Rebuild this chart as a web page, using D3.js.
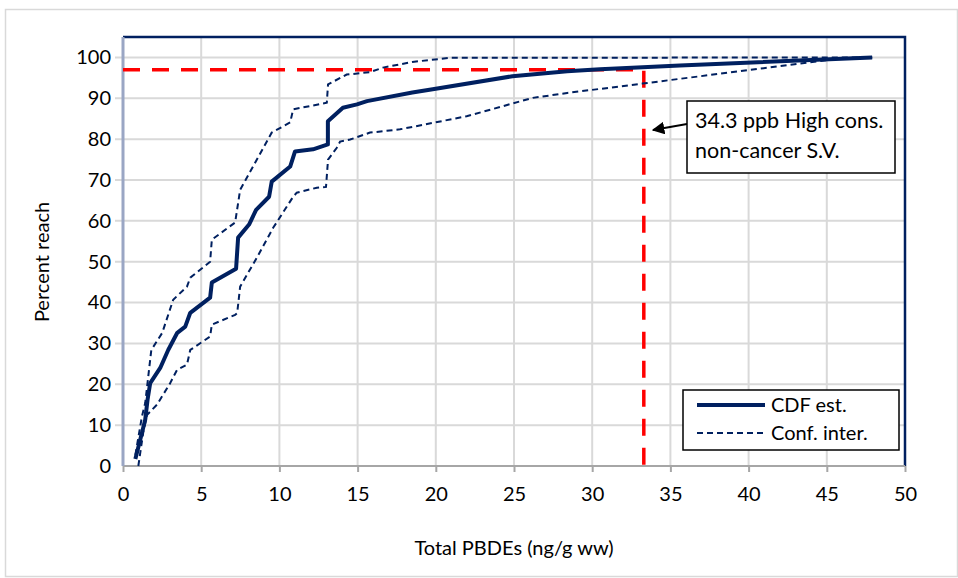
<!DOCTYPE html>
<html>
<head>
<meta charset="utf-8">
<script src="https://cdn.jsdelivr.net/npm/d3@7"></script>
<style>
  body { margin: 0; background: #fff; }
  svg text { font-family: Lato, "Open Sans", sans-serif; fill: #000; }
</style>
</head>
<body>
<script>
// tick values
const xTicks = [0, 5, 10, 15, 20, 25, 30, 35, 40, 45, 50];
const yTicks = [0, 10, 20, 30, 40, 50, 60, 70, 80, 90, 100];

// CDF estimate (solid)
const cdfX = [0.79, 1.10, 1.42, 1.57, 1.74, 2.38, 2.89, 3.47, 3.98, 4.30, 5.57, 5.68, 7.23, 7.36, 8.06, 8.51, 9.34, 9.51, 10.69, 11.0, 12.15, 13.1, 13.1, 14.06, 14.96, 15.6, 18.5, 19.8, 24.9, 28.4, 30.5, 35.6, 47.9];
const cdfY = [1.7, 6.4, 11.3, 16.2, 20.3, 24.0, 28.4, 32.6, 34.1, 37.5, 41.2, 44.9, 48.3, 55.9, 59.1, 62.7, 65.9, 69.6, 73.3, 77.0, 77.5, 78.7, 84.4, 87.7, 88.5, 89.3, 91.4, 92.2, 95.4, 96.6, 97.1, 98.0, 100];

// upper confidence bound (dashed)
const upX = [0.79, 1.21, 1.42, 1.81, 2.51, 3.21, 4.09, 4.30, 5.57, 5.68, 7.17, 7.49, 8.56, 9.51, 10.69, 10.88, 13.03, 13.11, 14.3, 15.79, 16.62, 18.5, 20.9, 47.9];
const upY = [2.7, 12.1, 15.4, 28.4, 32.6, 40.7, 43.9, 46.1, 50.0, 55.4, 59.6, 67.6, 75.0, 81.6, 84.1, 87.3, 88.9, 93.4, 95.8, 96.4, 97.5, 98.9, 99.9, 100];

// lower confidence bound (dashed)
const loX = [0.98, 1.29, 1.53, 2.17, 3.02, 3.45, 4.09, 4.30, 5.57, 5.68, 7.17, 7.30, 7.49, 8.56, 9.60, 10.88, 11.11, 12.39, 12.98, 13.11, 13.67, 13.88, 14.52, 15.79, 17.71, 21.97, 26.2, 28.4, 30.5, 33.2, 39.4, 45.35, 47.9];
const loY = [0, 8.1, 12.5, 15.0, 20.3, 23.5, 24.8, 28.4, 31.7, 34.6, 37.0, 37.4, 43.9, 51.0, 58.3, 65.9, 66.9, 68.1, 68.3, 75.0, 77.9, 79.4, 79.9, 81.6, 82.4, 85.6, 90.1, 91.3, 92.3, 93.6, 96.6, 99.5, 100];

// screening value
const svX = 33.3;
const svY = 97;

const W = 958, H = 578;
const margin = { top: 37, right: 53, bottom: 112, left: 123 };
const width = W - margin.left - margin.right;
const height = H - margin.top - margin.bottom;

const svg = d3.select('body').append('svg')
  .attr('width', W)
  .attr('height', H);

// outer frame
svg.append('rect')
  .attr('x', 5.5).attr('y', 9.5)
  .attr('width', 952).attr('height', 567)
  .attr('fill', 'none')
  .attr('stroke', '#d9d9d9')
  .attr('stroke-width', 1.5);

const g = svg.append('g')
  .attr('transform', 'translate(' + margin.left + ',' + margin.top + ')');

const xScale = d3.scaleLinear().domain([0, 50]).range([0, width]);
const yScale = d3.scaleLinear().domain([0, 105]).range([height, 0]);

// gridlines
g.append('g').selectAll('line.h')
  .data(yTicks.filter(d => d > 0))
  .join('line')
  .attr('x1', -8).attr('x2', width)
  .attr('y1', d => yScale(d)).attr('y2', d => yScale(d))
  .attr('stroke', '#d9d9d9').attr('stroke-width', 2);

g.append('g').selectAll('line.v')
  .data(xTicks.filter(d => d > 0 && d < 50))
  .join('line')
  .attr('x1', d => xScale(d)).attr('x2', d => xScale(d))
  .attr('y1', 0).attr('y2', height)
  .attr('stroke', '#d9d9d9').attr('stroke-width', 2);

// axes
const xAxis = d3.axisBottom(xScale).tickValues(xTicks).tickSize(6).tickPadding(15);
const yAxis = d3.axisLeft(yScale).tickValues(yTicks).tickSize(0).tickPadding(12);

const gx = g.append('g')
  .attr('transform', 'translate(0,' + height + ')')
  .call(xAxis);
gx.select('.domain').remove();
gx.selectAll('line').attr('stroke', '#a6a6a6').attr('stroke-width', 2);
gx.selectAll('text').style('font-size', '20px');

const gy = g.append('g').call(yAxis);
gy.select('.domain').remove();
gy.selectAll('text').style('font-size', '20px');

// plot border (top/right navy)
g.append('path')
  .attr('d', 'M0,0 H' + width + ' V' + height)
  .attr('fill', 'none')
  .attr('stroke', '#002060')
  .attr('stroke-width', 2.5);

// axis lines
g.append('line')
  .attr('x1', 0).attr('x2', width)
  .attr('y1', height).attr('y2', height)
  .attr('stroke', '#a6a6a6').attr('stroke-width', 2);
g.append('line')
  .attr('x1', 0).attr('x2', 0)
  .attr('y1', 0).attr('y2', height)
  .attr('stroke', '#9aa6c4').attr('stroke-width', 3);

// red screening lines
g.append('path')
  .attr('d', 'M' + xScale(0) + ',' + yScale(svY) + ' H' + xScale(svX) + ' V' + yScale(0))
  .attr('fill', 'none')
  .attr('stroke', '#ff0000')
  .attr('stroke-width', 3.5)
  .attr('stroke-dasharray', '17,12');

// curves
const line = d3.line()
  .x(d => xScale(d[0]))
  .y(d => yScale(d[1]));

const upper = upX.map((v, i) => [v, upY[i]]);
const lower = loX.map((v, i) => [v, loY[i]]);
const cdf = cdfX.map((v, i) => [v, cdfY[i]]);

[upper, lower].forEach(pts => {
  g.append('path')
    .datum(pts)
    .attr('d', line)
    .attr('fill', 'none')
    .attr('stroke', '#002060')
    .attr('stroke-width', 2)
    .attr('stroke-dasharray', '6,4');
});

g.append('path')
  .datum(cdf)
  .attr('d', line)
  .attr('fill', 'none')
  .attr('stroke', '#002060')
  .attr('stroke-width', 4)
  .attr('stroke-linejoin', 'round');

// axis titles
svg.append('text')
  .attr('x', 514).attr('y', 555)
  .attr('text-anchor', 'middle')
  .style('font-size', '20px')
  .text('Total PBDEs (ng/g ww)');

svg.append('text')
  .attr('transform', 'translate(49,262) rotate(-90)')
  .attr('text-anchor', 'middle')
  .style('font-size', '20px')
  .text('Percent reach');

// annotation
svg.append('defs').append('marker')
  .attr('id', 'arrow')
  .attr('viewBox', '0 0 10 10')
  .attr('refX', 9).attr('refY', 5)
  .attr('markerWidth', 7).attr('markerHeight', 7)
  .attr('orient', 'auto')
  .append('path')
  .attr('d', 'M0,0 L10,5 L0,10 z')
  .attr('fill', '#000');

svg.append('line')
  .attr('x1', 687).attr('y1', 124)
  .attr('x2', 653).attr('y2', 130)
  .attr('stroke', '#000').attr('stroke-width', 1.8)
  .attr('marker-end', 'url(#arrow)');

svg.append('rect')
  .attr('x', 687).attr('y', 101)
  .attr('width', 208).attr('height', 72)
  .attr('fill', '#fff')
  .attr('stroke', '#000').attr('stroke-width', 1.5);

svg.append('text')
  .attr('x', 695).attr('y', 128)
  .style('font-size', '21.5px')
  .text('34.3 ppb High cons.');
svg.append('text')
  .attr('x', 695).attr('y', 158)
  .style('font-size', '21.5px')
  .text('non-cancer S.V.');

// legend
const legend = svg.append('g');
legend.append('rect')
  .attr('x', 683).attr('y', 390)
  .attr('width', 216).attr('height', 60)
  .attr('fill', '#fff')
  .attr('stroke', '#000').attr('stroke-width', 1.5);

const legendItems = [
  { label: 'CDF est.', w: 4, dash: null, y: 405 },
  { label: 'Conf. inter.', w: 2, dash: '6,4', y: 433 }
];
legendItems.forEach(it => {
  legend.append('line')
    .attr('x1', 697).attr('x2', 765)
    .attr('y1', it.y).attr('y2', it.y)
    .attr('stroke', '#002060')
    .attr('stroke-width', it.w)
    .attr('stroke-dasharray', it.dash);
  legend.append('text')
    .attr('x', 771).attr('y', it.y + 7)
    .style('font-size', '20px')
    .text(it.label);
});
</script>
</body>
</html>
